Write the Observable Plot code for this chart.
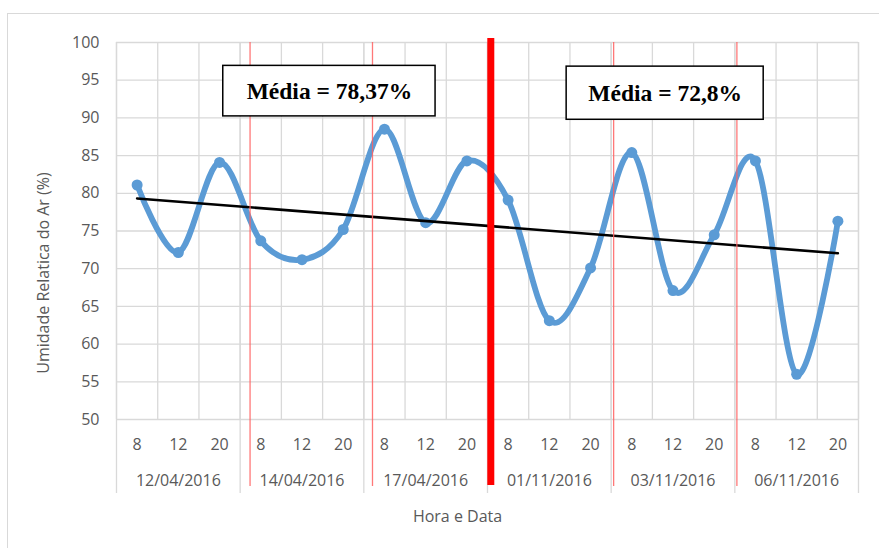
<!DOCTYPE html>
<html>
<head>
<meta charset="utf-8">
<script src="https://cdn.jsdelivr.net/npm/d3@7"></script>
<script src="https://cdn.jsdelivr.net/npm/@observablehq/plot@0.6"></script>
<style>
  html, body { margin: 0; padding: 0; background: #fff; }
  #wrap { position: relative; width: 879px; height: 548px; overflow: hidden; }
  #border { position: absolute; left: 7px; top: 13px; width: 900px; height: 600px; border: 1px solid #d9d9d9; box-sizing: border-box; }
  #chart { position: absolute; left: 0; top: 0; }
</style>
</head>
<body>
<div id="wrap"><div id="border"></div><div id="chart"></div></div>
<script>
// ---- data ----
const dates = ["12/04/2016", "14/04/2016", "17/04/2016", "01/11/2016", "03/11/2016", "06/11/2016"];
const hours = [8, 12, 20];
const humidity = [81.1, 72.15, 84.1, 73.7, 71.2, 75.2, 88.5, 76.1, 84.3,
                  79.1, 63.1, 70.1, 85.4, 67.1, 74.5, 84.3, 56.0, 76.3];
const yTicks = [50, 55, 60, 65, 70, 75, 80, 85, 90, 95, 100];
const meanLabels = ["Média = 78,37%", "Média = 72,8%"];

// ---- layout helpers (category index space) ----
const catBoundaries = d3.range(0, humidity.length + 1);
const groupBoundaries = d3.range(0, humidity.length + 1, 3);
const thinSeparators = [3.24, 6.21, 12.06, 15.05];
const heavySeparator = [9.08];
const boxes = [
  {x1: 2.59, x2: 7.74, y1: 90.2, y2: 96.9, label: meanLabels[0]},
  {x1: 10.92, x2: 15.70, y1: 89.75, y2: 96.8, label: meanLabels[1]}
];

const data = humidity.map((v, i) => ({
  x: i + 0.5, v, hour: hours[i % 3], date: dates[Math.floor(i / 3)]
}));
const dateRows = dates.map((d, g) => ({x: g * 3 + 1.5, d}));

const gray = "#d9d9d9";
const textCol = "#595959";

const chart = Plot.plot({
  width: 879, height: 548,
  marginLeft: 116, marginRight: 21, marginTop: 42, marginBottom: 129,
  x: {domain: [0, humidity.length], axis: null},
  y: {domain: [50, 100], axis: null},
  style: {fontFamily: "'Open Sans', sans-serif", fontSize: "16px", color: textCol, background: "transparent"},
  marks: [
    Plot.ruleX(catBoundaries, {stroke: gray, strokeWidth: 1.3}),
    Plot.ruleY(yTicks, {stroke: gray, strokeWidth: 1.3}),
    Plot.ruleX(groupBoundaries, {stroke: gray, strokeWidth: 1.3, insetBottom: -74}),
    Plot.axisY(yTicks, {tickSize: 0, tickPadding: 17, label: null, fontSize: 16, color: textCol}),
    Plot.text(data, {x: "x", text: d => String(d.hour), frameAnchor: "bottom", lineAnchor: "middle", dy: 25, fontSize: 16, fill: textCol}),
    Plot.text(dateRows, {x: "x", text: "d", frameAnchor: "bottom", lineAnchor: "middle", dy: 61, fontSize: 16, fill: textCol}),
    Plot.text(["Hora e Data"], {frameAnchor: "bottom", lineAnchor: "middle", dx: -30, dy: 97, fontSize: 16, fill: textCol}),
    Plot.text(["Umidade Relatica do Ar (%)"], {frameAnchor: "left", textAnchor: "middle", lineAnchor: "middle", rotate: -90, dx: -73, dy: 42, fontSize: 16, fill: textCol}),
    Plot.line(data, {x: "x", y: "v", curve: "cardinal", stroke: "#5B9BD5", strokeWidth: 5.8, strokeLinejoin: "round", strokeLinecap: "round"}),
    Plot.dot(data, {x: "x", y: "v", r: 5.5, fill: "#5B9BD5", stroke: "none"}),
    Plot.linearRegressionY(data, {x: "x", y: "v", stroke: "black", strokeWidth: 2.6, ci: 0}),
    Plot.ruleX(thinSeparators, {stroke: "#ff6060", strokeOpacity: 0.85, strokeWidth: 1.3, insetBottom: -67}),
    Plot.ruleX(heavySeparator, {stroke: "#ff0000", strokeWidth: 7, insetBottom: -66, insetTop: -4}),
    Plot.rect(boxes, {x1: "x1", x2: "x2", y1: "y1", y2: "y2", fill: "white", stroke: "black", strokeWidth: 1.5}),
    Plot.text(boxes, {x: d => (d.x1 + d.x2) / 2, y: d => (d.y1 + d.y2) / 2, text: "label",
      fontFamily: "'Liberation Serif', 'Times New Roman', serif", fontWeight: "bold", fontSize: 23.5, fill: "black"})
  ]
});
document.getElementById("chart").appendChild(chart);
</script>
</body>
</html>
